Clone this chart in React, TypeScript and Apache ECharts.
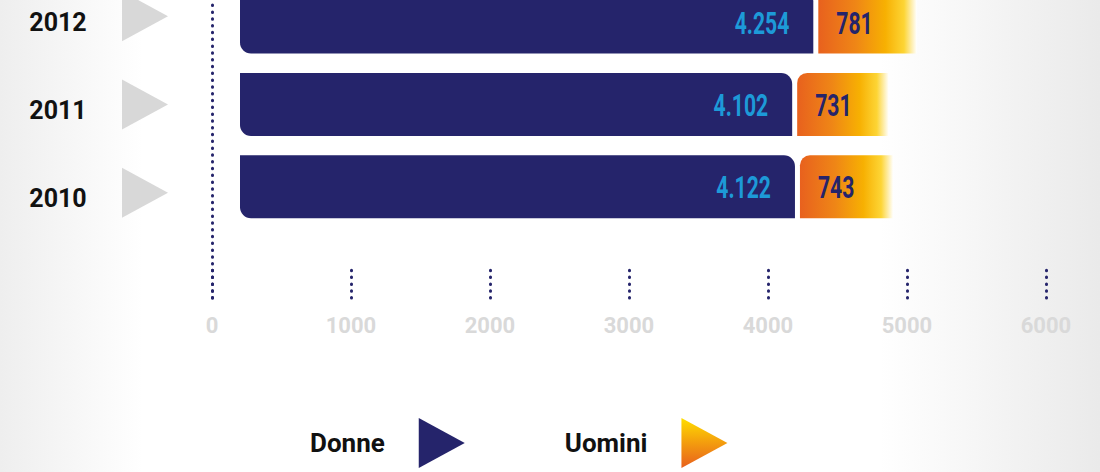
import React, { useEffect, useRef } from "react";
import * as echarts from "echarts";

const years = [2010, 2011, 2012];
const donne = [4122, 4102, 4254];
const uomini = [743, 731, 781];
const xTicks = [0, 1000, 2000, 3000, 4000, 5000, 6000];
const seriesNames = ["Donne", "Uomini"];

const NAVY = "#25246b";
const BOLD = "Roboto, 'Liberation Sans', sans-serif";

function fmt(v: number): string {
  const th = Math.floor(v / 1000);
  const rest = v % 1000;
  return th > 0 ? th + "." + String(rest).padStart(3, "0") : String(v);
}

export default function App() {
  const ref = useRef<HTMLDivElement>(null);
  useEffect(() => {
    document.body.style.margin = "0";
    const chart = echarts.init(ref.current!, null, { renderer: "svg" });
    const dotted: any = { color: NAVY, width: 3, type: [0.5, 6.3], cap: "round" };
    const data = years.map((y, i) => [y, donne[i], uomini[i]]);

    const bg = new echarts.graphic.LinearGradient(0, 0, 1, 0, [
      { offset: 0, color: "#eeeeee" },
      { offset: 0.13, color: "#ffffff" },
      { offset: 0.8, color: "#ffffff" },
      { offset: 1, color: "#eaeaea" },
    ]);
    const uomGradH = () =>
      new echarts.graphic.LinearGradient(0, 0, 1, 0, [
        { offset: 0, color: "#e8611e" },
        { offset: 0.38, color: "#ef8616" },
        { offset: 0.68, color: "#f7b002" },
        { offset: 0.87, color: "#fdd535" },
        { offset: 1, color: "#ffffff" },
      ]);
    const uomGradV = new echarts.graphic.LinearGradient(0, 0, 0, 1, [
      { offset: 0, color: "#ffde00" },
      { offset: 0.5, color: "#f39c0e" },
      { offset: 1, color: "#e8601e" },
    ]);

    const valueText = {
      fontSize: 32,
      fontFamily: BOLD,
      fontWeight: "bold",
      verticalAlign: "middle",
    };

    const renderDonne = (params: any, api: any) => {
      const y = api.value(0);
      const d = api.value(1);
      const p0 = api.coord([0, y]);
      const p1 = api.coord([d, y]);
      const h = api.size([0, 1])[1] * 0.765;
      const x0 = p0[0] + 28;
      const x1 = p1[0] + 10;
      return {
        type: "group",
        children: [
          {
            type: "rect",
            shape: { x: x0, y: p0[1] - h / 2, width: x1 - x0, height: h, r: [0, 11, 0, 11] },
            style: { fill: NAVY },
          },
          {
            type: "text",
            x: x1 - 24,
            y: p0[1] + 1,
            scaleX: 0.66,
            style: { ...valueText, text: fmt(d), fill: "#1d9ad8", align: "right" },
          },
        ],
      };
    };

    const renderUomini = (params: any, api: any) => {
      const y = api.value(0);
      const d = api.value(1);
      const u = api.value(2);
      const p1 = api.coord([d, y]);
      const p2 = api.coord([d + u, y]);
      const h = api.size([0, 1])[1] * 0.765;
      const x0 = p1[0] + 15;
      const x2 = p2[0] + 5;
      return {
        type: "group",
        children: [
          {
            type: "rect",
            shape: { x: x0, y: p1[1] - h / 2, width: x2 - x0, height: h, r: [10, 0, 0, 0] },
            style: { fill: uomGradH() },
          },
          {
            type: "text",
            x: x0 + 18,
            y: p1[1] + 1,
            scaleX: 0.66,
            style: { ...valueText, text: String(u), fill: NAVY, align: "left" },
          },
        ],
      };
    };

    const renderYear = (params: any, api: any) => {
      const y = api.value(1);
      const cy = api.coord([0, y])[1];
      const tip = cy - 5;
      return {
        type: "group",
        children: [
          {
            type: "polygon",
            shape: { points: [[122, tip - 25], [168, tip], [122, tip + 25]] },
            style: { fill: "#d8d8d8" },
          },
          {
            type: "text",
            x: 58,
            y: cy + 1,
            style: {
              text: String(y),
              fill: "#111111",
              fontSize: 25,
              fontFamily: BOLD,
              fontWeight: "bold",
              align: "center",
              verticalAlign: "middle",
            },
          },
        ],
      };
    };

    const option: any = {
      animation: false,
      graphic: [
        {
          type: "rect",
          shape: { x: 0, y: 0, width: 1100, height: 472 },
          style: { fill: bg },
          z: -100,
          silent: true,
        },
      ],
      grid: { left: 212, right: 54, top: 0, bottom: 174 },
      xAxis: {
        type: "value",
        min: xTicks[0],
        max: xTicks[xTicks.length - 1],
        interval: xTicks[1] - xTicks[0],
        axisLine: { show: false },
        axisTick: { show: true, inside: true, length: 31, lineStyle: dotted },
        splitLine: { show: false },
        axisLabel: {
          color: "#d9d9d9",
          fontSize: 22,
          fontWeight: "bold",
          fontFamily: BOLD,
          margin: 16,
          formatter: (v: number) => String(v),
        },
      },
      yAxis: [
        {
          type: "value",
          min: 2008.6476,
          max: 2012.2685,
          position: "left",
          axisLine: { show: true, onZero: false, lineStyle: dotted },
          axisTick: { show: false },
          axisLabel: { show: false },
          splitLine: { show: false },
        },
        {
          type: "value",
          min: 2008.864,
          max: 2012.2408,
          show: false,
          splitLine: { show: false },
        },
      ],
      legend: {
        data: [
          { name: seriesNames[0], itemStyle: { color: NAVY } },
          { name: seriesNames[1], itemStyle: { color: uomGradV } },
        ],
        left: 310,
        top: 418,
        padding: 0,
        orient: "horizontal",
        align: "right",
        itemWidth: 46,
        itemHeight: 50,
        itemGap: 100,
        icon: "path://M0,0L46,25L0,50Z",
        selectedMode: false,
        textStyle: {
          fontFamily: BOLD,
          fontWeight: "bold",
          fontSize: 26,
          color: "#111111",
          padding: [18, 29, 0, 0],
        },
      },
      series: [
        {
          type: "custom",
          name: seriesNames[0],
          xAxisIndex: 0,
          yAxisIndex: 0,
          itemStyle: { color: NAVY },
          data,
          encode: { x: 1, y: 0 },
          renderItem: renderDonne,
        },
        {
          type: "custom",
          name: seriesNames[1],
          xAxisIndex: 0,
          yAxisIndex: 0,
          itemStyle: { color: uomGradV },
          data,
          encode: { x: 2, y: 0 },
          renderItem: renderUomini,
        },
        {
          type: "custom",
          name: "anni",
          xAxisIndex: 0,
          yAxisIndex: 1,
          data: years.map((y) => [0, y]),
          encode: { x: 0, y: 1 },
          renderItem: renderYear,
        },
      ],
    };
    chart.setOption(option);
    return () => chart.dispose();
  }, []);
  return <div ref={ref} style={{ width: 1100, height: 472 }} />;
}
